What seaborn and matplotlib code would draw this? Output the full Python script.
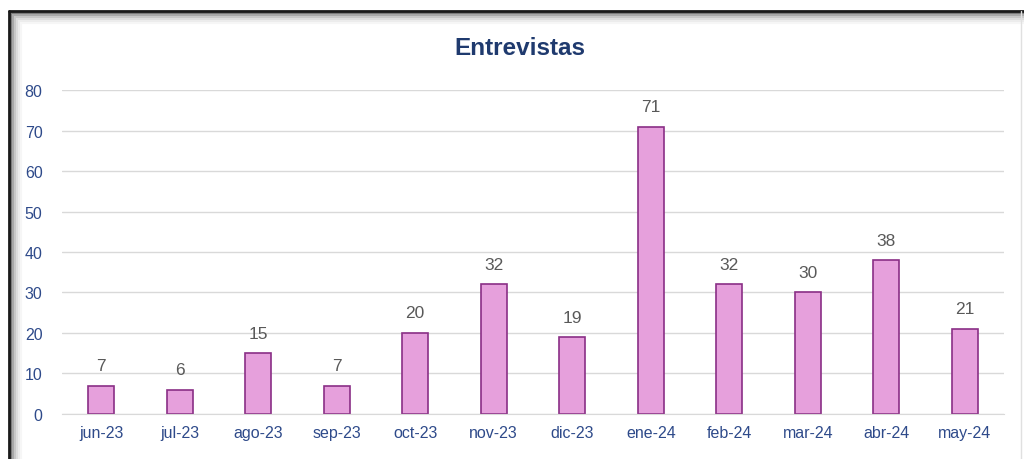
import pandas as pd
import matplotlib
matplotlib.use("Agg")
import matplotlib.pyplot as plt
import seaborn as sns
from matplotlib.lines import Line2D

# data
months = ['jun-23', 'jul-23', 'ago-23', 'sep-23', 'oct-23', 'nov-23',
          'dic-23', 'ene-24', 'feb-24', 'mar-24', 'abr-24', 'may-24']
entrevistas = [7, 6, 15, 7, 20, 32, 19, 71, 32, 30, 38, 21]

df = pd.DataFrame({'Mes': months, 'Entrevistas': entrevistas})

sns.set_style('white')
plt.rcParams['font.family'] = ['Liberation Sans', 'DejaVu Sans']

fig = plt.figure(figsize=(10.24, 4.6), dpi=100)
ax = fig.add_axes([0.0605, 0.098, 0.92, 0.704])

sns.barplot(data=df, x='Mes', y='Entrevistas', color='#E6A0DC',
            edgecolor='#8A2F86', linewidth=1.2, width=0.33, saturation=1, ax=ax)

ax.bar_label(ax.containers[0], padding=9, color='#595959', fontsize=12.5)

ax.set_ylim(0, 80)
ax.set_xlim(-0.5, 11.5)
ax.set_yticks(range(0, 81, 10))
ax.yaxis.grid(True, color='#D9D9D9', linewidth=1)
ax.set_axisbelow(True)
for s in ['top', 'right', 'left']:
    ax.spines[s].set_visible(False)
ax.spines['bottom'].set_color('#D9D9D9')
ax.tick_params(axis='both', colors='#2E4A8A', labelsize=11.5, length=0)
ax.tick_params(axis='y', pad=14)
ax.tick_params(axis='x', pad=8)
ax.set_xlabel('')
ax.set_ylabel('')

fig.text(0.508, 0.895, 'Entrevistas', ha='center', va='center',
         fontsize=17.5, fontweight='bold', color='#1F3A6E')

# frame: dark top/left edge with soft inner shadow
W, H = 1024, 460
x0, y0 = 8.5 / W, 1 - 11.5 / H
shades = ['#7A7A7A', '#A8A8A8', '#C8C8C8', '#DDDDDD', '#ECECEC', '#F6F6F6']
for i, c in enumerate(shades):
    dx, dy = (2 + 2 * i) / W, (2 + 2 * i) / H
    fig.lines.append(Line2D([x0 + dx, 1], [y0 - dy, y0 - dy], transform=fig.transFigure,
                            color=c, linewidth=1.5))
    fig.lines.append(Line2D([x0 + dx, x0 + dx], [0, y0 - dy], transform=fig.transFigure,
                            color=c, linewidth=1.5))
fig.lines.append(Line2D([x0, 1], [y0, y0], transform=fig.transFigure,
                        color='#1A1A1A', linewidth=2))
fig.lines.append(Line2D([x0, x0], [0, y0], transform=fig.transFigure,
                        color='#1A1A1A', linewidth=2))
fig.lines.append(Line2D([1020.5 / W, 1020.5 / W], [0, y0], transform=fig.transFigure,
                        color='#E0E0E0', linewidth=1))

fig.savefig('out.png', dpi=100)
